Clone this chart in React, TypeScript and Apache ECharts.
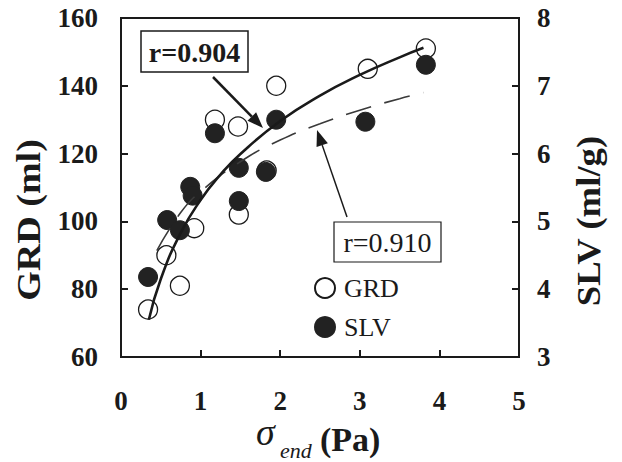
import React, { useEffect, useRef } from "react";
import * as echarts from "echarts";

// GRD (open circles, left axis)
const grdX = [0.34, 0.57, 0.74, 0.92, 1.18, 1.47, 1.48, 1.83, 1.95, 3.1, 3.83];
const grdY = [74, 90, 81, 98, 130, 128, 102, 115, 140, 145, 151];

// SLV (filled circles, right axis)
const slvX = [0.34, 0.58, 0.74, 0.87, 0.9, 1.18, 1.48, 1.48, 1.82, 1.95, 3.07, 3.83];
const slvY = [4.18, 5.02, 4.87, 5.51, 5.38, 6.3, 5.79, 5.3, 5.73, 6.5, 6.47, 7.31];

// Fitted curves
const grdFitX = [0.35, 0.5, 0.75, 1.0, 1.25, 1.5, 2.0, 2.5, 3.0, 3.5, 3.8];
const grdFitY = [71, 83, 96.6, 106.3, 113.8, 119.9, 129.6, 137.1, 143.2, 148.4, 151.2];
const slvFitX = [0.45, 0.75, 1.0, 1.5, 2.0, 2.5, 3.0, 3.5, 3.8];
const slvFitY = [4.57, 5.13, 5.44, 5.88, 6.2, 6.44, 6.64, 6.81, 6.9];

const xTicks = [0, 1, 2, 3, 4, 5];
const grdTicks = [60, 80, 100, 120, 140, 160];
const slvTicks = [3, 4, 5, 6, 7, 8];

const SERIF = "'Liberation Serif', 'Times New Roman', serif";
const INK = "#1a1a1a";

function arrow(x1: number, y1: number, x2: number, y2: number, w: number, head: number, hw: number) {
  const dx = x2 - x1, dy = y2 - y1;
  const L = Math.sqrt(dx * dx + dy * dy);
  const ux = dx / L, uy = dy / L;
  const bx = x2 - ux * head, by = y2 - uy * head;
  return [
    { type: "line", shape: { x1, y1, x2: bx, y2: by }, style: { stroke: INK, lineWidth: w }, z: 10 },
    {
      type: "polygon",
      shape: { points: [[x2, y2], [bx - uy * hw, by + ux * hw], [bx + uy * hw, by - ux * hw]] },
      style: { fill: INK },
      z: 10,
    },
  ];
}

export default function App() {
  const ref = useRef<HTMLDivElement>(null);
  useEffect(() => {
    if (!ref.current) return;
    const chart = echarts.init(ref.current, null, { renderer: "svg" });
    const labelStyle = { fontFamily: SERIF, fontWeight: "bold", fontSize: 27, color: INK };
    chart.setOption({
      animation: false,
      backgroundColor: "#fff",
      grid: { left: 121, right: 103, top: 18, bottom: 105, show: true, borderColor: INK, borderWidth: 2, backgroundColor: "transparent" },
      legend: {
        data: ["GRD", "SLV"],
        orient: "vertical",
        left: 309,
        top: 270,
        itemWidth: 20,
        itemHeight: 20,
        itemGap: 13,
        textStyle: { fontFamily: SERIF, fontSize: 26, color: INK, padding: [0, 0, 0, 4] },
      },
      xAxis: {
        type: "value",
        min: 0,
        max: 5,
        interval: 1,
        axisLine: { lineStyle: { color: INK, width: 2 } },
        axisTick: { inside: true, length: 7, lineStyle: { color: INK, width: 2 } },
        axisLabel: { ...labelStyle, margin: 30, formatter: (v: number) => (xTicks.includes(v) ? String(v) : "") },
        splitLine: { show: false },
      },
      yAxis: [
        {
          type: "value",
          min: 60,
          max: 160,
          interval: 20,
          position: "left",
          axisLine: { show: true, lineStyle: { color: INK, width: 2 } },
          axisTick: { show: true, inside: true, length: 7, lineStyle: { color: INK, width: 2 } },
          axisLabel: { ...labelStyle, margin: 23, formatter: (v: number) => (grdTicks.includes(v) ? String(v) : "") },
          splitLine: { show: false },
        },
        {
          type: "value",
          min: 3,
          max: 8,
          interval: 1,
          position: "right",
          axisLine: { show: true, lineStyle: { color: INK, width: 2 } },
          axisTick: { show: true, inside: true, length: 7, lineStyle: { color: INK, width: 2 } },
          axisLabel: { ...labelStyle, margin: 18, formatter: (v: number) => (slvTicks.includes(v) ? String(v) : "") },
          splitLine: { show: false },
        },
      ],
      series: [
        {
          name: "GRD",
          type: "scatter",
          yAxisIndex: 0,
          symbol: "circle",
          symbolSize: 19,
          itemStyle: { color: "#fff", borderColor: INK, borderWidth: 1.3, opacity: 1 },
          data: grdX.map((x, i) => [x, grdY[i]]),
          z: 2,
        },
        {
          name: "SLV",
          type: "scatter",
          yAxisIndex: 1,
          symbol: "circle",
          symbolSize: 19,
          itemStyle: { color: "#222", borderColor: "#222", borderWidth: 1, opacity: 1 },
          data: slvX.map((x, i) => [x, slvY[i]]),
          z: 3,
        },
        {
          name: "GRD fit",
          type: "line",
          yAxisIndex: 0,
          smooth: true,
          showSymbol: false,
          lineStyle: { color: INK, width: 2.6 },
          data: grdFitX.map((x, i) => [x, grdFitY[i]]),
          z: 5,
        },
        {
          name: "SLV fit",
          type: "line",
          yAxisIndex: 1,
          smooth: true,
          showSymbol: false,
          lineStyle: { color: "#3a3a3a", width: 1.6, type: [26, 14] },
          data: slvFitX.map((x, i) => [x, slvFitY[i]]),
          z: 4,
        },
      ],
      graphic: [
        { type: "rect", shape: { x: 141, y: 31, width: 107, height: 41 }, style: { fill: "#fff", stroke: INK, lineWidth: 1.5 }, z: 10 },
        {
          type: "text",
          x: 194.5,
          y: 52,
          style: { text: "r=0.904", fontFamily: SERIF, fontWeight: "bold", fontSize: 28, fill: INK, align: "center", verticalAlign: "middle" },
          z: 11,
        },
        ...arrow(213, 77, 263, 128, 2.5, 16, 6),
        { type: "rect", shape: { x: 334, y: 222, width: 107, height: 40 }, style: { fill: "#fff", stroke: INK, lineWidth: 1.2 }, z: 10 },
        {
          type: "text",
          x: 387.5,
          y: 242,
          style: { text: "r=0.910", fontFamily: SERIF, fontSize: 28, fill: INK, align: "center", verticalAlign: "middle" },
          z: 11,
        },
        ...arrow(347, 217, 317, 130, 1.5, 16, 6),
        {
          type: "text",
          x: 29,
          y: 220,
          rotation: Math.PI / 2,
          scaleX: 1.12,
          style: { text: "GRD (ml)", fontFamily: SERIF, fontWeight: "bold", fontSize: 34, fill: INK, align: "center", verticalAlign: "middle" },
        },
        {
          type: "text",
          x: 588,
          y: 221,
          rotation: Math.PI / 2,
          scaleX: 1.08,
          style: { text: "SLV (ml/g)", fontFamily: SERIF, fontWeight: "bold", fontSize: 34, fill: INK, align: "center", verticalAlign: "middle" },
        },
        {
          type: "text",
          x: 256,
          y: 432,
          style: { text: "σ", fontFamily: SERIF, fontStyle: "italic", fontSize: 38, fill: INK, align: "left", verticalAlign: "middle" },
        },
        {
          type: "text",
          x: 280,
          y: 450,
          style: { text: "end", fontFamily: SERIF, fontStyle: "italic", fontSize: 22, fill: INK, align: "left", verticalAlign: "middle" },
        },
        {
          type: "text",
          x: 320,
          y: 439,
          style: { text: "(Pa)", fontFamily: SERIF, fontWeight: "bold", fontSize: 34, fill: INK, align: "left", verticalAlign: "middle" },
        },
      ],
    });
    return () => chart.dispose();
  }, []);
  return <div ref={ref} style={{ width: 622, height: 462, position: "fixed", left: 0, top: 0 }} />;
}
